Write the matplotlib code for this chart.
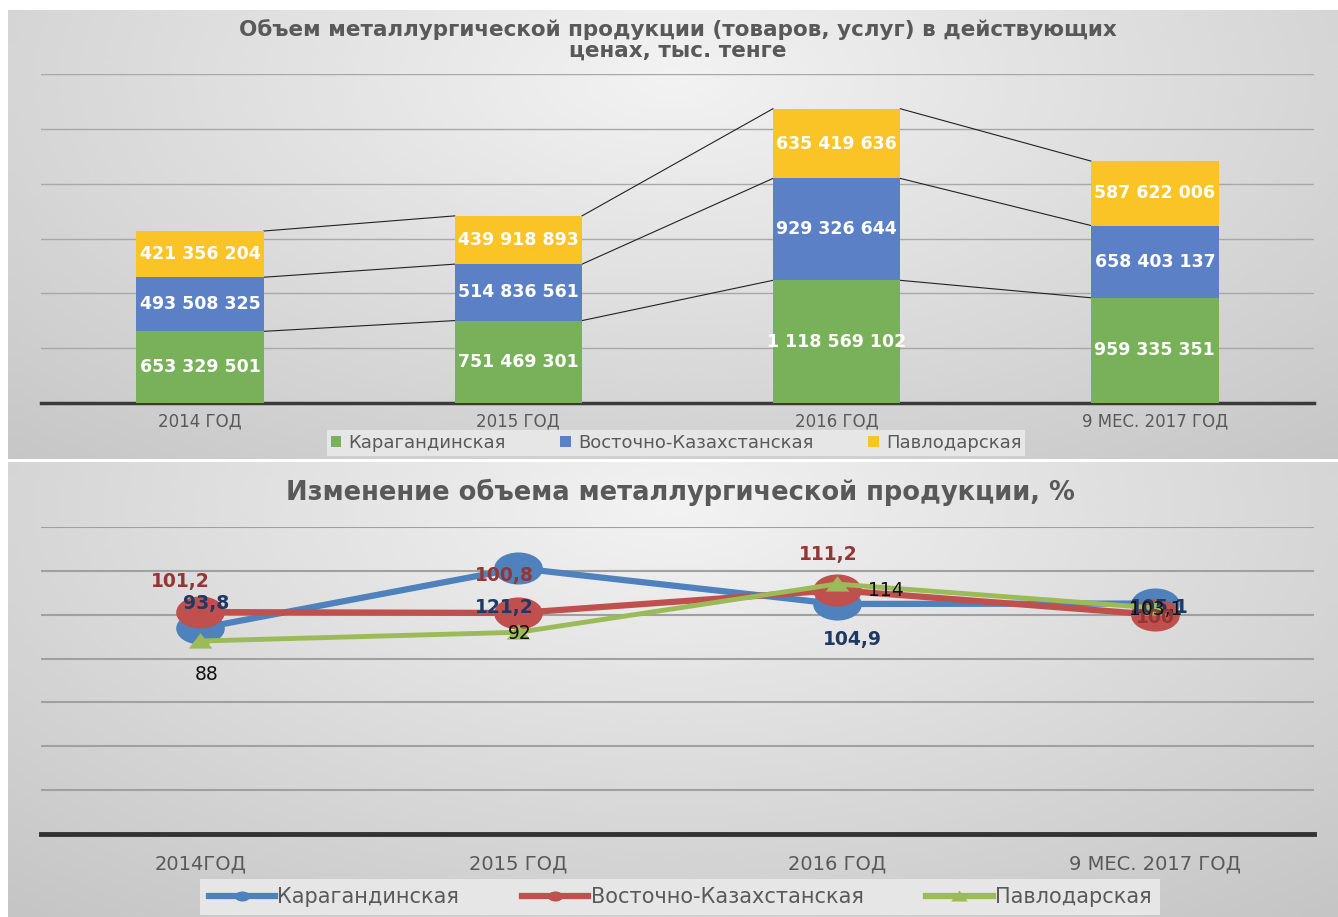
import numpy as np
import matplotlib.pyplot as plt
from matplotlib.path import Path
from matplotlib.lines import Line2D

plt.rcParams['font.family'] = ['DejaVu Sans']

# ---- data ----
years = ['2014 ГОД', '2015 ГОД', '2016 ГОД', '9 МЕС. 2017 ГОД']
years2 = ['2014ГОД', '2015 ГОД', '2016 ГОД', '9 МЕС. 2017 ГОД']
regions = ['Карагандинская', 'Восточно-Казахстанская', 'Павлодарская']

karaganda = [653329501, 751469301, 1118569102, 959335351]
vko = [493508325, 514836561, 929326644, 658403137]
pavlodar = [421356204, 439918893, 635419636, 587622006]

# % change (position of points)
pct_kar = [93.8, 121.2, 104.9, 105.1]
pct_vko = [101.2, 100.8, 111.2, 100]
pct_pav = [88, 92, 114, 103.1]
# labels as printed on the chart (mixed up in the original)
lab_kar = ['93,8', '121,2', '104,9', '105,1']
lab_vko = ['101,2', '100,8', '111,2', '100']
lab_pav = ['88', '92', '114', '103,1']

bar_colors = ['#78B15A', '#5B80C6', '#FAC427']
line_colors = ['#4F81BD', '#C0504D', '#9BBB59']
label_colors = ['#1F3864', '#943634', '#111111']


def fmt(v):
    return f'{v:,}'.replace(',', ' ')


fig = plt.figure(figsize=(13.38, 9.17), dpi=100)
fig.patch.set_facecolor('white')


def panel(rect, cy):
    bg = fig.add_axes(rect, zorder=-10)
    yy, xx = np.mgrid[0:1:200j, 0:1:300j]
    d = np.sqrt(((xx - 0.5) / 0.75) ** 2 + ((yy - cy) / 1.1) ** 2)
    val = 0.95 - 0.17 * d
    bg.imshow(val, cmap='gray', vmin=0, vmax=1, aspect='auto',
              extent=(0, 1, 0, 1), origin='upper', interpolation='bicubic')
    bg.axis('off')


W, H = 1338, 917
panel([8 / W, (H - 459) / H, 1330 / W, 449 / H], 0.15)
panel([8 / W, 0, 1330 / W, (H - 462) / H], 0.1)

# ---- top chart: stacked bars ----
ax = fig.add_axes([41 / W, (H - 403) / H, 1273 / W, 329 / H])
ax.set_facecolor('none')
x = np.arange(len(years))
bw = 0.4
series = [karaganda, vko, pavlodar]
bottom = np.zeros(len(years))
handles = []
for s, c, name in zip(series, bar_colors, regions):
    vals = np.array(s, dtype=float)
    b = ax.bar(x, vals, bw, bottom=bottom, color=c, label=name, zorder=3)
    handles.append(b)
    for xi, v, bt in zip(x, vals, bottom):
        ax.text(xi, bt + v / 2, fmt(int(v)), ha='center', va='center',
                color='white', fontsize=12.5, fontweight='bold', zorder=5)
    bottom = bottom + vals
    # series lines
    for i in range(len(years) - 1):
        ax.plot([x[i] + bw / 2, x[i + 1] - bw / 2], [bottom[i], bottom[i + 1]],
                color='#222222', lw=0.8, zorder=2)

ax.set_xlim(-0.5, 3.5)
ax.set_ylim(0, 3.0e9)
ax.set_yticks(np.arange(0, 3.01e9, 5e8))
ax.yaxis.grid(True, color='#a8a8a8', lw=1.0)
ax.set_axisbelow(True)
ax.tick_params(left=False, labelleft=False, bottom=False, pad=3)
ax.set_xticks(x)
ax.set_xticklabels(years, fontsize=12, color='#595959')
for sp in ['top', 'right', 'left']:
    ax.spines[sp].set_visible(False)
ax.spines['bottom'].set_color('#3a3a3a')
ax.spines['bottom'].set_linewidth(2.5)

fig.text(678 / W, 1 - 40 / H,
         'Объем металлургической продукции (товаров, услуг) в действующих\nценах, тыс. тенге',
         ha='center', va='center', fontsize=15.5, fontweight='bold', color='#595959',
         linespacing=1.05)

leg = fig.legend(handles, regions, loc='center', bbox_to_anchor=(676 / W, 1 - 443 / H),
                 ncol=3, frameon=True, fancybox=False, facecolor='#e6e6e6',
                 edgecolor='none', framealpha=1, fontsize=13,
                 handlelength=0.6, handleheight=0.6, handletextpad=0.4,
                 columnspacing=3.0, borderpad=0.2)
for t in leg.get_texts():
    t.set_color('#595959')

# ---- bottom chart: lines ----
ax2 = fig.add_axes([41 / W, (H - 834) / H, 1273 / W, 307 / H])
ax2.set_facecolor('none')

circ = Path.unit_circle()
ellipse = Path(circ.vertices * np.array([1.0, 0.66]), circ.codes)
tri = Path([(-1, -0.6), (1, -0.6), (0, 0.7), (-1, -0.6)],
           [Path.MOVETO, Path.LINETO, Path.LINETO, Path.CLOSEPOLY])

pcts = [pct_kar, pct_vko, pct_pav]
labs = [lab_kar, lab_vko, lab_pav]
markers = [ellipse, ellipse, tri]
msizes = [35, 35, 17]
lws = [4.5, 4.5, 3.5]
# label offsets in pixels (dx, dy)
offs = [[(6, 25), (-14, -39), (16, -36), (4, -4)],
        [(-20, 31), (-14, 37), (-8, 36), (1, -3)],
        [(6, -33), (1, -1), (49, -6), (1, -2)]]
weights = ['bold', 'bold', 'normal']
lhandles = []
for k in range(3):
    ax2.plot(x, pcts[k], color=line_colors[k], lw=lws[k], marker=markers[k],
             markersize=msizes[k], markeredgewidth=0, zorder=3 + k)
    lhandles.append(Line2D([], [], color=line_colors[k], lw=4.5, marker=markers[k],
                           markersize=11 if k < 2 else 12, markeredgewidth=0))
for k in range(3):
    for i in range(len(years)):
        ax2.annotate(labs[k][i], (x[i], pcts[k][i]), xytext=offs[k][i],
                     textcoords='offset pixels', ha='center', va='center',
                     fontsize=13.5, fontweight=weights[k], color=label_colors[k],
                     zorder=10)

ax2.set_xlim(-0.5, 3.5)
ax2.set_ylim(0, 140)
ax2.set_yticks(np.arange(0, 141, 20))
ax2.yaxis.grid(True, color='#a0a0a0', lw=1.5)
ax2.set_axisbelow(True)
ax2.tick_params(left=False, labelleft=False, bottom=False, pad=11)
ax2.set_xticks(x)
ax2.set_xticklabels(years2, fontsize=14, color='#595959')
for sp in ['top', 'right', 'left']:
    ax2.spines[sp].set_visible(False)
ax2.spines['bottom'].set_color('#333333')
ax2.spines['bottom'].set_linewidth(3.5)

fig.text(680 / W, 1 - 492 / H, 'Изменение объема металлургической продукции, %',
         ha='center', va='center', fontsize=18.5, fontweight='bold', color='#595959')

leg2 = fig.legend(lhandles, regions, loc='center', bbox_to_anchor=(680 / W, 1 - 897 / H),
                  ncol=3, frameon=True, fancybox=False, facecolor='#e6e6e6',
                  edgecolor='none', framealpha=1, fontsize=15,
                  handlelength=3.2, handletextpad=0.1, columnspacing=3.0,
                  borderpad=0.4)
for t in leg2.get_texts():
    t.set_color('#595959')

fig.savefig('out.png', dpi=100)
